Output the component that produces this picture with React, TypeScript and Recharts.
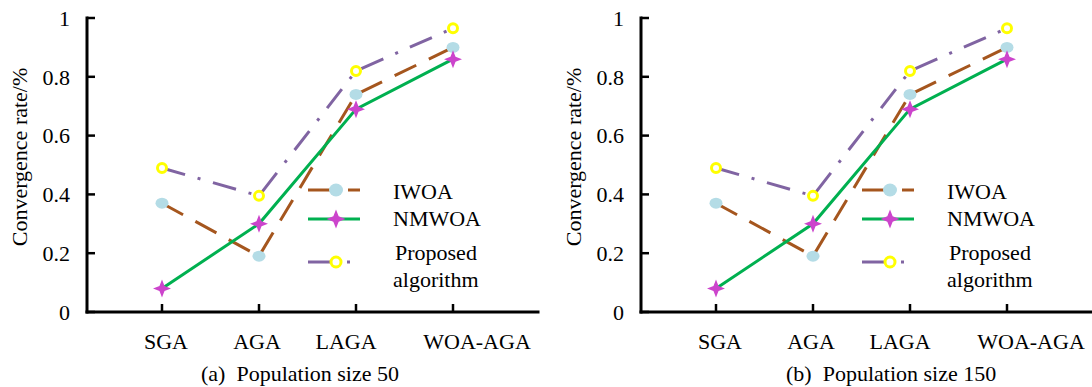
import React from "react";
import { LineChart, Line, XAxis, YAxis } from "recharts";

// Convergence rate of four algorithms, two population sizes.
const CATEGORIES = ["SGA", "AGA", "LAGA", "WOA-AGA"];
const Y_TICKS = [0, 0.2, 0.4, 0.6, 0.8, 1];

const IWOA_50 = [0.37, 0.19, 0.74, 0.9];
const NMWOA_50 = [0.08, 0.3, 0.69, 0.86];
const PROPOSED_50 = [0.49, 0.395, 0.82, 0.965];

const IWOA_150 = [0.37, 0.19, 0.74, 0.9];
const NMWOA_150 = [0.08, 0.3, 0.69, 0.86];
const PROPOSED_150 = [0.49, 0.395, 0.82, 0.965];

const FONT = '"Liberation Serif", "Times New Roman", serif';
const C = {
  brown: "#A5561E", lightblue: "#B4DCE6",
  green: "#00B050", magenta: "#CC44CC",
  purple: "#8064A2", yellow: "#FFFF00",
};

// small nudges of the category labels, as in the figure
const LABEL_DX: Record<string, number> = { SGA: 4, AGA: -2, LAGA: -10, "WOA-AGA": 24 };

const W = 546, H = 387;

function starPath(cx: number, cy: number, r: number) {
  const k = r * 0.28;
  return `M${cx},${cy - r} L${cx + k},${cy - k} L${cx + r},${cy} L${cx + k},${cy + k} L${cx},${cy + r} L${cx - k},${cy + k} L${cx - r},${cy} L${cx - k},${cy - k} Z`;
}

const CircleDot = (p: any) => <ellipse key={`c${p.index}`} cx={p.cx} cy={p.cy} rx={6.5} ry={5.5} fill={C.lightblue} />;
const StarDot = (p: any) => <path key={`s${p.index}`} d={starPath(p.cx, p.cy, 9)} fill={C.magenta} />;
const RingDot = (p: any) => <circle key={`r${p.index}`} cx={p.cx} cy={p.cy} r={4.5} fill="#fff" stroke={C.yellow} strokeWidth={3} />;

const XTick = (p: any) => {
  const v = p.payload.value;
  return (
    <text x={p.x + (LABEL_DX[v] ?? 0)} y={p.y} textAnchor="middle" fontSize={22} fontFamily={FONT} fill="#000">{v}</text>
  );
};

function Panel({ left, caption, captionX, iwoa, nmwoa, proposed }: {
  left: number; caption: string; captionX: number; iwoa: number[]; nmwoa: number[]; proposed: number[];
}) {
  const data = CATEGORIES.map((name, i) => ({ name, iwoa: iwoa[i], nmwoa: nmwoa[i], proposed: proposed[i] }));
  return (
    <div style={{ position: "absolute", left, top: 0, width: W, height: H }}>
      <LineChart width={W} height={H} data={data} margin={{ top: 18, right: 8, bottom: 0, left: 0 }}>
        <XAxis dataKey="name" interval={0} padding={{ left: 75, right: 85 }} height={75}
          axisLine={{ stroke: "#000", strokeWidth: 3, strokeLinecap: "square" }}
          tickLine={{ stroke: "#000", strokeWidth: 2.5 }} tickSize={-8} tickMargin={45} tick={<XTick />} />
        <YAxis type="number" domain={[0, 1]} ticks={Y_TICKS} interval={0} width={87}
          axisLine={{ stroke: "#000", strokeWidth: 3, strokeLinecap: "square" }}
          tickLine={{ stroke: "#000", strokeWidth: 2.5 }} tickSize={-8} tickMargin={25}
          tick={{ fill: "#000", fontSize: 22, fontFamily: FONT }} />
        <Line type="linear" dataKey="iwoa" stroke={C.brown} strokeWidth={3} strokeDasharray="24 14"
          dot={CircleDot} activeDot={false} isAnimationActive={false} />
        <Line type="linear" dataKey="nmwoa" stroke={C.green} strokeWidth={3}
          dot={StarDot} activeDot={false} isAnimationActive={false} />
        <Line type="linear" dataKey="proposed" stroke={C.purple} strokeWidth={3} strokeDasharray="24 13 3 13"
          dot={RingDot} activeDot={false} isAnimationActive={false} />
      </LineChart>
      <svg width={W} height={H} style={{ position: "absolute", left: 0, top: 0, pointerEvents: "none" }}
        fontFamily={FONT} fontSize={22} fill="#000">
        <text x={19} y={157} transform="rotate(-90 19 157)" textAnchor="middle" dominantBaseline="central">Convergence rate/%</text>
        {/* legend */}
        <line x1={308} x2={360} y1={190} y2={190} stroke={C.brown} strokeWidth={3} strokeDasharray="30 10 12" />
        <ellipse cx={336} cy={190} rx={7} ry={6.5} fill={C.lightblue} />
        <text x={393} y={199}>IWOA</text>
        <line x1={308} x2={360} y1={219} y2={219} stroke={C.green} strokeWidth={3} />
        <path d={starPath(336, 219, 9.5)} fill={C.magenta} />
        <text x={393} y={226}>NMWOA</text>
        <line x1={308} x2={350} y1={262} y2={262} stroke={C.purple} strokeWidth={3} strokeDasharray="30 9 3" />
        <circle cx={336} cy={262} r={5} fill="#fff" stroke={C.yellow} strokeWidth={3} />
        <text x={395} y={260}>Proposed</text>
        <text x={393} y={287}>algorithm</text>
        <text x={captionX} y={381} style={{ whiteSpace: "pre" }}>{caption}</text>
      </svg>
    </div>
  );
}

export default function App() {
  return (
    <div style={{ position: "absolute", left: 0, top: 0, width: 1092, height: 387, overflow: "hidden", background: "#fff", fontFamily: FONT }}>
      <Panel left={0} caption="(a)  Population size 50" captionX={201}
        iwoa={IWOA_50} nmwoa={NMWOA_50} proposed={PROPOSED_50} />
      <Panel left={554} caption="(b)  Population size 150" captionX={232}
        iwoa={IWOA_150} nmwoa={NMWOA_150} proposed={PROPOSED_150} />
    </div>
  );
}
